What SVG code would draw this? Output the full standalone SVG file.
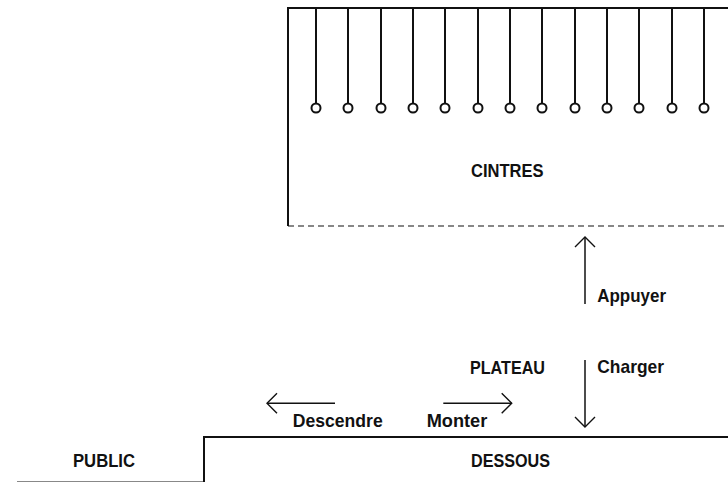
<svg xmlns="http://www.w3.org/2000/svg" width="728" height="482" viewBox="0 0 728 482">
<style>
.t{font-family:"Liberation Sans",Arial,sans-serif;font-weight:bold;font-size:19px;fill:#111}
.frame{stroke:#111;stroke-width:2;fill:none}
.hang{stroke:#111;stroke-width:2}
.ring{stroke:#111;stroke-width:2;fill:#fff}
.arr{stroke:#111;stroke-width:1.5;fill:none}
</style>
<defs>
<marker id="ah" viewBox="-12 -12 24 24" markerWidth="24" markerHeight="24" refX="0" refY="0" orient="auto" markerUnits="userSpaceOnUse">
<path d="M-10,-10 L0,0 L-10,10" fill="none" stroke="#111" stroke-width="1.4"/>
</marker>
<g id="hanger"><line x1="0" y1="8" x2="0" y2="103.5" class="hang"/><circle cx="0" cy="108" r="4.5" class="ring"/></g>
</defs>
<rect width="728" height="482" fill="#fff"/>
<g id="cintres">
<path class="frame" d="M728,8 H288 V226"/>
<line x1="288" y1="226" x2="728" y2="226" stroke="#111" stroke-width="1.2" stroke-dasharray="6,4"/>
<use href="#hanger" x="316"/><use href="#hanger" x="348"/><use href="#hanger" x="381"/><use href="#hanger" x="413"/><use href="#hanger" x="445"/><use href="#hanger" x="478"/><use href="#hanger" x="510"/><use href="#hanger" x="542"/><use href="#hanger" x="575"/><use href="#hanger" x="607"/><use href="#hanger" x="639"/><use href="#hanger" x="672"/><use href="#hanger" x="704"/>
<text class="t" x="471" y="177.3" textLength="72.5" lengthAdjust="spacingAndGlyphs">CINTRES</text>
</g>
<g id="plateau">
<text class="t" x="470" y="374" textLength="75" lengthAdjust="spacingAndGlyphs">PLATEAU</text>
</g>
<g id="dessous">
<path class="frame" d="M728,437 H204 V482"/>
<text class="t" x="471" y="466.7" textLength="79" lengthAdjust="spacingAndGlyphs">DESSOUS</text>
</g>
<g id="public">
<line x1="17" y1="482" x2="204" y2="482" stroke="#111" stroke-width="1"/>
<text class="t" x="73" y="466.7" textLength="62" lengthAdjust="spacingAndGlyphs">PUBLIC</text>
</g>
<g id="connectors">
<line class="arr" x1="585" y1="304" x2="585" y2="237" marker-end="url(#ah)"/>
<line class="arr" x1="585" y1="360" x2="585" y2="427" marker-end="url(#ah)"/>
<line class="arr" x1="335" y1="403.3" x2="267" y2="403.3" marker-end="url(#ah)"/>
<line class="arr" x1="443.3" y1="403.3" x2="511.7" y2="403.3" marker-end="url(#ah)"/>
<text class="t" x="597.3" y="302" textLength="68.7" lengthAdjust="spacingAndGlyphs">Appuyer</text>
<text class="t" x="597.3" y="373.3" textLength="66.7" lengthAdjust="spacingAndGlyphs">Charger</text>
<text class="t" x="292.7" y="427" textLength="90" lengthAdjust="spacingAndGlyphs">Descendre</text>
<text class="t" x="426.7" y="427" textLength="60.6" lengthAdjust="spacingAndGlyphs">Monter</text>
</g>
</svg>
